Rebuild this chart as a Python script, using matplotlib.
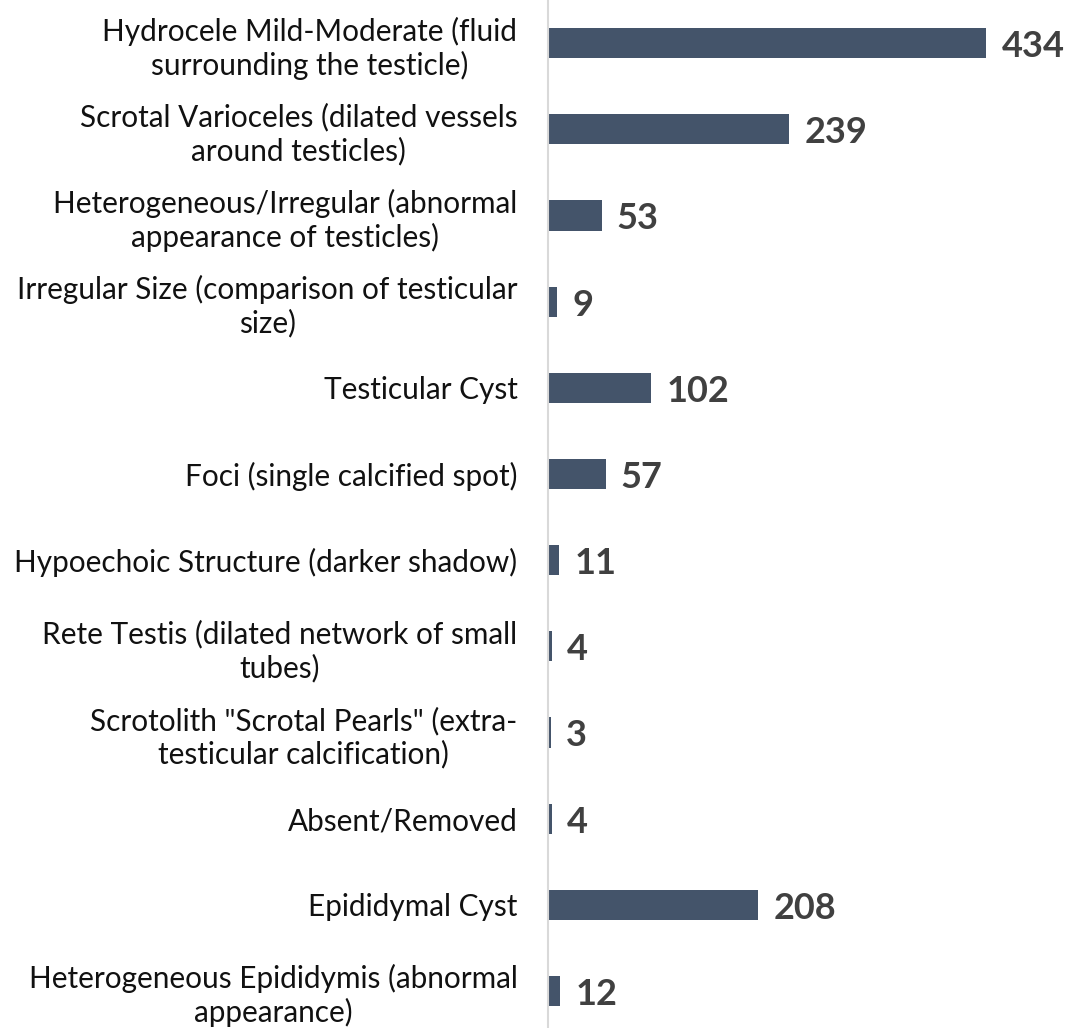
import matplotlib
matplotlib.use("Agg")
import matplotlib.pyplot as plt

# -----------------------------
# Data (top to bottom)
# -----------------------------
categories = [
    "Hydrocele Mild-Moderate (fluid\nsurrounding the testicle)",
    "Scrotal Varioceles (dilated vessels\naround testicles)",
    "Heterogeneous/Irregular (abnormal\nappearance of testicles)",
    "Irregular Size (comparison of testicular\nsize)",
    "Testicular Cyst",
    "Foci (single calcified spot)",
    "Hypoechoic Structure (darker shadow)",
    "Rete Testis (dilated network of small\ntubes)",
    "Scrotolith \"Scrotal Pearls\" (extra-\ntesticular calcification)",
    "Absent/Removed",
    "Epididymal Cyst",
    "Heterogeneous Epididymis (abnormal\nappearance)",
]
counts = [434, 239, 53, 9, 102, 57, 11, 4, 3, 4, 208, 12]

BAR_COLOR = "#44546A"
VALUE_COLOR = "#404040"
AXIS_COLOR = "#D9D9D9"

plt.rcParams["font.family"] = ["Lato", "DejaVu Sans"]

fig = plt.figure(figsize=(10.74, 10.28), dpi=100)
ax = fig.add_axes([548 / 1074, 0, 526 / 1074, 1])

pos = list(range(len(categories)))
ax.barh(pos, counts, height=0.35, color=BAR_COLOR)

ax.set_xlim(0, 521)
ax.set_ylim(11.43, -0.5)

ax.set_yticks(pos)
ax.set_yticklabels(categories, fontsize=21.4, color="#111111", ha="right",
                   multialignment="center", linespacing=1.2)
ax.tick_params(axis="y", length=0, pad=22)
ax.set_xticks([])

for s in ["top", "right", "bottom"]:
    ax.spines[s].set_visible(False)
ax.spines["left"].set_color(AXIS_COLOR)
ax.spines["left"].set_linewidth(1.5)

# value labels (sit a little below the bar centre, like the original)
for p, v in zip(pos, counts):
    ax.annotate(str(v), xy=(v, p), xytext=(11, -2.5), textcoords="offset points",
                ha="left", va="center", fontsize=26, fontweight="bold",
                color=VALUE_COLOR)

fig.savefig("out.png", dpi=100)
